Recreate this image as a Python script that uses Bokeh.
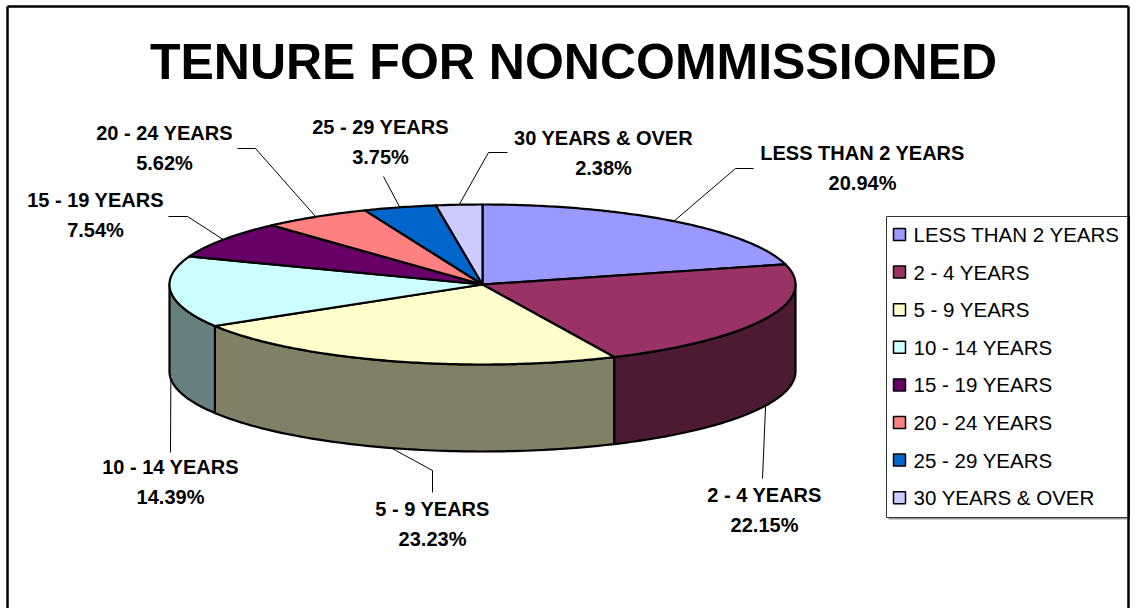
import numpy as np
from bokeh.plotting import figure
from bokeh.models import Range1d, ColumnDataSource
from bokeh.core.properties import value
from bokeh.embed import file_html
from bokeh.resources import INLINE

# ---------------- data ----------------
title_text = "TENURE FOR NONCOMMISSIONED"
categories = ["LESS THAN 2 YEARS", "2 - 4 YEARS", "5 - 9 YEARS", "10 - 14 YEARS",
              "15 - 19 YEARS", "20 - 24 YEARS", "25 - 29 YEARS", "30 YEARS & OVER"]
percents = [20.94, 22.15, 23.23, 14.39, 7.54, 5.62, 3.75, 2.38]
colors = ["#9999FF", "#993366", "#FFFFCC", "#CCFFFF", "#660066", "#FF8080", "#0066CC", "#CCCCFF"]
side_colors = ["#4C4C80", "#4D1A33", "#808066", "#668080", "#330033", "#804040", "#003366", "#666680"]

# ---------------- layout (pixels) ----------------
CX, CY, RA, RB, DEPTH = 482, 284, 313, 80, 87
label_pos = [(862, 152), (764, 494), (432, 508), (170, 466),
             (95, 199), (164, 132), (380, 126), (603, 137)]
leader_bends = [[(735, 168), (753, 168)], [(762, 478)], [(432, 470), (432, 492)], [(170, 452)],
                [(187, 216), (168, 216)], [(255, 148), (237, 148)], [(383, 176)], [(488, 152), (507, 152)]]
LINE_GAP = 30
LEG_X0, LEG_X1, LEG_Y0, LEG_Y1 = 886, 1129, 216, 517
LEG_FIRST, LEG_STEP = 234, 37.6

W, H = 1130, 608
p = figure(width=W, height=H, output_backend="svg", toolbar_location=None,
           x_range=Range1d(0, W), y_range=Range1d(H, 0),
           min_border=0, outline_line_color=None)
p.axis.visible = False
p.grid.visible = False
p.background_fill_color = "white"
p.border_fill_color = "white"

fr = np.array(percents) / sum(percents)
ends = 90 - 360 * np.cumsum(fr)
starts = ends + 360 * fr


def ex(t):
    return CX + RA * np.cos(np.radians(t))


def ey(t):
    return CY - RB * np.sin(np.radians(t))


# side walls (front half only)
wx, wy, wc = [], [], []
for s, e, c in zip(starts, ends, side_colors):
    hi, lo = min(s, 0.0), max(e, -180.0)
    if hi > lo:
        t = np.linspace(hi, lo, 80)
        xs = list(ex(t)) + list(ex(t[::-1]))
        ys = list(ey(t)) + list(ey(t[::-1]) + DEPTH)
        wx.append(xs); wy.append(ys); wc.append(c)
p.patches(wx, wy, fill_color=wc, line_color="black", line_width=2.2, line_join="round")

# top faces
tx, ty = [], []
for s, e in zip(starts, ends):
    t = np.linspace(s, e, max(6, int(abs(s - e) * 1.5)))
    tx.append([CX] + list(ex(t)))
    ty.append([CY] + list(ey(t)))
p.patches(tx, ty, fill_color=colors, line_color="black", line_width=2.2, line_join="round")

# leader lines and labels
mids = (starts + ends) / 2
lx, ly = [], []
for m, bends in zip(mids, leader_bends):
    ax, ay = ex(m), ey(m)
    if np.sin(np.radians(m)) < 0:
        ay += DEPTH
    lx.append([ax] + [b[0] for b in bends])
    ly.append([ay] + [b[1] for b in bends])
p.multi_line(lx, ly, line_color="black", line_width=1)

src = ColumnDataSource(dict(
    x=[lp[0] for lp in label_pos],
    y1=[lp[1] for lp in label_pos],
    y2=[lp[1] + LINE_GAP for lp in label_pos],
    name=categories,
    pct=["%.2f%%" % v for v in percents]))
p.text(x="x", y="y1", text="name", source=src, text_font=value("Liberation Sans"),
       text_font_style="bold", text_font_size="20px", text_align="center",
       text_baseline="middle", text_color="black")
p.text(x="x", y="y2", text="pct", source=src, text_font=value("Liberation Sans"),
       text_font_style="bold", text_font_size="20px", text_align="center",
       text_baseline="middle", text_color="black")

# title
p.text(x=[573], y=[61], text=[title_text], text_font=value("Liberation Sans"),
       text_font_style="bold", text_font_size="50px", text_align="center",
       text_baseline="middle", text_color="black")

# legend
p.quad(left=[LEG_X0 + 2], right=[LEG_X1 + 2], top=[LEG_Y0 + 2], bottom=[LEG_Y1 + 2],
       fill_color="#9a9a9a", line_color=None)
p.quad(left=[LEG_X0], right=[LEG_X1], top=[LEG_Y0], bottom=[LEG_Y1],
       fill_color="white", line_color="#333333", line_width=1)
leg_y = [LEG_FIRST + i * LEG_STEP for i in range(len(categories))]
p.rect(x=[899] * len(categories), y=leg_y, width=12, height=12, fill_color=colors,
       line_color="black", line_width=1.5)
p.text(x=[913] * len(categories), y=leg_y, text=categories, text_font=value("Liberation Sans"),
       text_font_size="20.5px", text_align="left", text_baseline="middle", text_color="black")

# outer chart border (bottom edge lies outside the picture)
p.multi_line([[7, 7], [7, 1128], [1128, 1128]], [[640, 6], [6, 6], [6, 640]],
             line_color="black", line_width=2.5)

open("out.html", "w").write(file_html(p, INLINE))
